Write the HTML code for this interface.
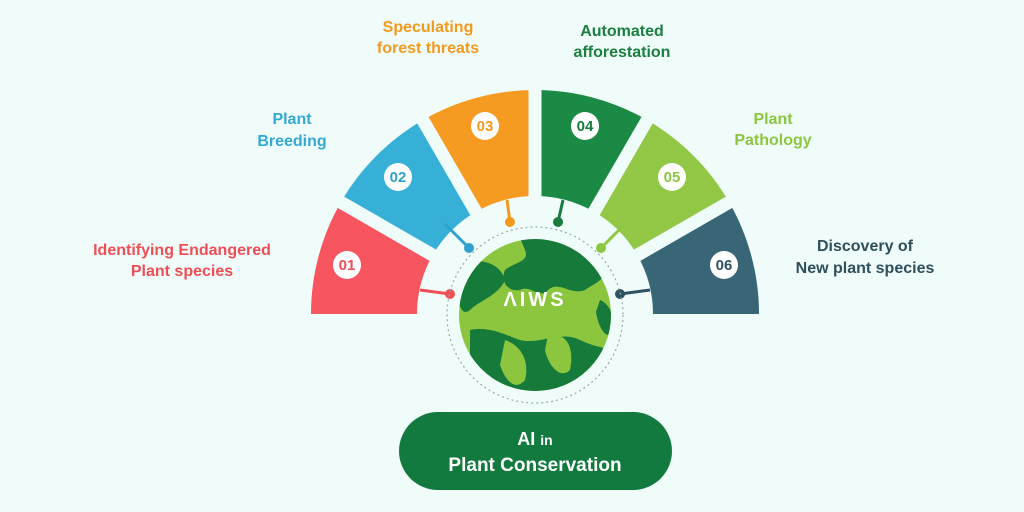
<!DOCTYPE html>
<html><head><meta charset="utf-8"><style>
html,body{margin:0;padding:0;background:#effcf9;}
svg{display:block}
text{font-family:"Liberation Sans",sans-serif;font-weight:bold;}
</style></head><body>
<svg width="1024" height="512" viewBox="0 0 1024 512">
<rect width="1024" height="512" fill="#effcf9"/>
<!-- segments -->
<path d="M417,314 L311,314 A224,224 0 0 1 341,202 L432.8,255 A118,118 0 0 0 417,314Z" fill="#f7555f"/>
<path d="M432.8,255 L341,202 A224,224 0 0 1 423,120 L476,211.8 A118,118 0 0 0 432.8,255Z" fill="#36b0d6"/>
<path d="M476,211.8 L423,120 A224,224 0 0 1 535,90 L535,196 A118,118 0 0 0 476,211.8Z" fill="#f69b22"/>
<path d="M535,196 L535,90 A224,224 0 0 1 647,120 L594,211.8 A118,118 0 0 0 535,196Z" fill="#1b8a45"/>
<path d="M594,211.8 L647,120 A224,224 0 0 1 729,202 L637.2,255 A118,118 0 0 0 594,211.8Z" fill="#92c845"/>
<path d="M637.2,255 L729,202 A224,224 0 0 1 759,314 L653,314 A118,118 0 0 0 637.2,255Z" fill="#386676"/>
<!-- gaps -->
<g stroke="#effcf9" stroke-width="13" stroke-linecap="butt">
<line x1="535" y1="314" x2="330" y2="196"/>
<line x1="535" y1="314" x2="417" y2="110"/>
<line x1="535" y1="314" x2="535" y2="80"/>
<line x1="535" y1="314" x2="653" y2="110"/>
<line x1="535" y1="314" x2="740" y2="196"/>
</g>
<circle cx="535" cy="314" r="112" fill="#effcf9"/>
<!-- connectors -->
<g stroke-width="3">
<line x1="420" y1="290" x2="450" y2="294" stroke="#f04e57"/>
<line x1="445" y1="224" x2="469" y2="248" stroke="#2ea2cc"/>
<line x1="507" y1="200" x2="510" y2="222" stroke="#f39a1e"/>
<line x1="563" y1="200" x2="558" y2="222" stroke="#187c3e"/>
<line x1="625" y1="224" x2="601" y2="248" stroke="#8dc63f"/>
<line x1="650" y1="290" x2="620" y2="294" stroke="#2f5262"/>
</g>
<circle cx="450" cy="294" r="5" fill="#f04e57"/>
<circle cx="469" cy="248" r="5" fill="#2ea2cc"/>
<circle cx="510" cy="222" r="5" fill="#f39a1e"/>
<circle cx="558" cy="222" r="5" fill="#187c3e"/>
<circle cx="601" cy="248" r="5" fill="#8dc63f"/>
<circle cx="620" cy="294" r="5" fill="#2f5262"/>
<!-- globe -->
<circle cx="535" cy="315" r="88" fill="none" stroke="#9aa" stroke-width="1.2" stroke-dasharray="2 3"/>
<circle cx="535" cy="315" r="76" fill="#8cc63f"/>
<clipPath id="g"><circle cx="535" cy="315" r="76"/></clipPath>
<g clip-path="url(#g)" fill="#157a3a">
<path d="M520,238 C540,232 580,240 600,262 C610,280 596,282 585,290 C570,296 560,280 548,290 C540,300 530,284 520,290 C508,292 500,282 505,270 C515,262 530,262 525,250Z"/>
<path d="M458,262 C480,258 500,262 505,280 C498,296 480,300 470,310 C460,318 458,300 458,290Z"/>
<path d="M470,330 C490,326 505,335 520,340 C540,345 560,330 580,340 C600,350 612,345 615,360 L600,395 L470,395Z"/>
<path d="M600,300 C612,305 615,320 612,335 C604,338 598,325 596,312Z"/>
</g>
<g clip-path="url(#g)" fill="#8cc63f">
<path d="M505,340 C520,345 530,360 525,380 C515,392 505,380 500,365Z"/>
<path d="M548,335 C565,332 575,345 570,370 C560,380 548,365 545,350Z"/>
</g>
<text x="535" y="306" font-size="20" fill="#fff" text-anchor="middle" font-weight="normal" letter-spacing="3">ΛIWS</text>
<!-- number badges -->
<g fill="#fff"><circle cx="347" cy="265" r="14"/><circle cx="398" cy="177" r="14"/><circle cx="485" cy="126" r="14"/><circle cx="585" cy="126" r="14"/><circle cx="672" cy="177" r="14"/><circle cx="724" cy="265" r="14"/></g>
<g font-size="15" text-anchor="middle">
<text x="347" y="270" fill="#f04e57">01</text>
<text x="398" y="182" fill="#2ea2cc">02</text>
<text x="485" y="131" fill="#f39a1e">03</text>
<text x="585" y="131" fill="#187c3e">04</text>
<text x="672" y="182" fill="#8dc63f">05</text>
<text x="724" y="270" fill="#2f5262">06</text>
</g>
<!-- labels -->
<g font-size="16" text-anchor="middle">
<text x="182" y="255" fill="#f04e57">Identifying Endangered</text>
<text x="182" y="276" fill="#f04e57">Plant species</text>
<text x="292" y="124" fill="#34a9d4">Plant</text>
<text x="292" y="146" fill="#34a9d4">Breeding</text>
<text x="428" y="32" fill="#f39a1e">Speculating</text>
<text x="428" y="53" fill="#f39a1e">forest threats</text>
<text x="622" y="36" fill="#1a7f3f">Automated</text>
<text x="622" y="57" fill="#1a7f3f">afforestation</text>
<text x="773" y="124" fill="#8dc63f">Plant</text>
<text x="773" y="145" fill="#8dc63f">Pathology</text>
<text x="865" y="251" fill="#2f4f5c">Discovery of</text>
<text x="865" y="273" fill="#2f4f5c">New plant species</text>
</g>
<!-- button -->
<rect x="399" y="412" width="273" height="78" rx="39" fill="#127a3e"/>
<text x="535" y="445" text-anchor="middle" fill="#fff" font-size="18">AI <tspan font-size="14">in</tspan></text>
<text x="535" y="471" text-anchor="middle" fill="#fff" font-size="19">Plant Conservation</text>
</svg>
</body></html>
